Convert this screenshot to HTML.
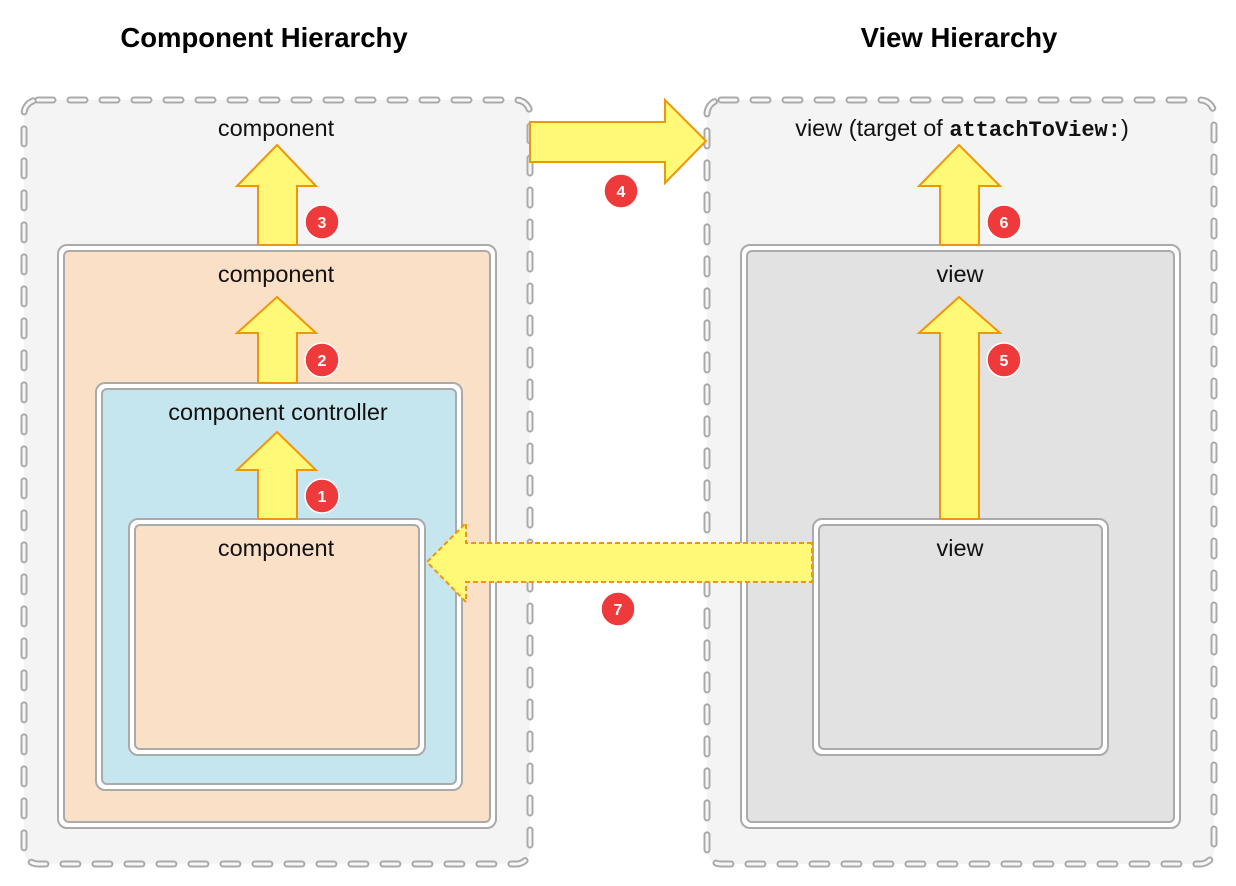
<!DOCTYPE html>
<html><head><meta charset="utf-8"><style>
body{margin:0;background:#fff}
svg{display:block;font-family:"Liberation Sans",sans-serif}
</style></head><body>
<svg width="1236" height="886" viewBox="0 0 1236 886">
<g>
<rect x="24" y="100" width="506" height="764" rx="14" fill="#f4f4f4" stroke="#aaa" stroke-width="7" stroke-dasharray="15 17" stroke-linecap="round"/>
<rect x="24" y="100" width="506" height="764" rx="14" fill="none" stroke="#f8f8f8" stroke-width="3" stroke-dasharray="15 17" stroke-linecap="round"/>
</g>
<g>
<rect x="707" y="100" width="507" height="764" rx="14" fill="#f4f4f4" stroke="#aaa" stroke-width="7" stroke-dasharray="15 17" stroke-linecap="round"/>
<rect x="707" y="100" width="507" height="764" rx="14" fill="none" stroke="#f8f8f8" stroke-width="3" stroke-dasharray="15 17" stroke-linecap="round"/>
</g>
<text x="264" y="47" font-size="27.5" font-weight="bold" text-anchor="middle">Component Hierarchy</text>
<text x="959" y="47" font-size="27.5" font-weight="bold" text-anchor="middle">View Hierarchy</text>
<g stroke="#aaa" stroke-width="2">
<g><rect x="58" y="245" width="438" height="583" rx="9" fill="#fff"/><rect x="64" y="251" width="426" height="571" rx="5" fill="#fae0c6"/></g>
<g><rect x="96" y="383" width="366" height="407" rx="9" fill="#fff"/><rect x="102" y="389" width="354" height="395" rx="5" fill="#c6e6ef"/></g>
<g><rect x="129" y="519" width="296" height="236" rx="9" fill="#fff"/><rect x="135" y="525" width="284" height="224" rx="5" fill="#fae0c6"/></g>
<g><rect x="741" y="245" width="439" height="583" rx="9" fill="#fff"/><rect x="747" y="251" width="427" height="571" rx="5" fill="#e2e2e2"/></g>
<g><rect x="813" y="519" width="295" height="236" rx="9" fill="#fff"/><rect x="819" y="525" width="283" height="224" rx="5" fill="#e2e2e2"/></g>
</g>
<g font-size="23.5" text-anchor="middle" fill="#111">
<text x="276" y="136">component</text>
<text x="276" y="282">component</text>
<text x="278" y="420">component controller</text>
<text x="276" y="556">component</text>
<text x="962" y="136">view (target of <tspan font-family="Liberation Mono,monospace" font-weight="bold" font-size="22">attachToView:</tspan>)</text>
<text x="960" y="282">view</text>
<text x="960" y="556">view</text>
</g>
<g fill="#fff977" stroke="#f0960a" stroke-width="2" stroke-linejoin="miter">
<polygon points="258,245 258,186 237,186 277,145 316,186 297,186 297,245"/>
<polygon points="258,383 258,333 237,333 277,297 316,333 297,333 297,383"/>
<polygon points="258,519 258,470 237,470 277,432 316,470 297,470 297,519"/>
<polygon points="940,245 940,186 919,186 959,145 1000,186 979,186 979,245"/>
<polygon points="940,519 940,333 919,333 959,297 1000,333 979,333 979,519"/>
<polygon points="530,122 665,122 665,100 706,141 665,183 665,162 530,162"/>
<polygon points="812,543 466,543 466,523 427,562 466,602 466,582 812,582" stroke-dasharray="5 3"/>
</g>
<g font-size="16" font-weight="bold" fill="#fff" text-anchor="middle">
<g><circle cx="322" cy="496" r="17" fill="#ee3a3a" stroke="#fff" stroke-width="1.5"/><text x="322" y="502">1</text></g>
<g><circle cx="322" cy="360" r="17" fill="#ee3a3a" stroke="#fff" stroke-width="1.5"/><text x="322" y="366">2</text></g>
<g><circle cx="322" cy="222" r="17" fill="#ee3a3a" stroke="#fff" stroke-width="1.5"/><text x="322" y="228">3</text></g>
<g><circle cx="621" cy="191" r="17" fill="#ee3a3a" stroke="#fff" stroke-width="1.5"/><text x="621" y="197">4</text></g>
<g><circle cx="1004" cy="360" r="17" fill="#ee3a3a" stroke="#fff" stroke-width="1.5"/><text x="1004" y="366">5</text></g>
<g><circle cx="1004" cy="222" r="17" fill="#ee3a3a" stroke="#fff" stroke-width="1.5"/><text x="1004" y="228">6</text></g>
<g><circle cx="618" cy="609" r="17" fill="#ee3a3a" stroke="#fff" stroke-width="1.5"/><text x="618" y="615">7</text></g>
</g>
</svg>
</body></html>
